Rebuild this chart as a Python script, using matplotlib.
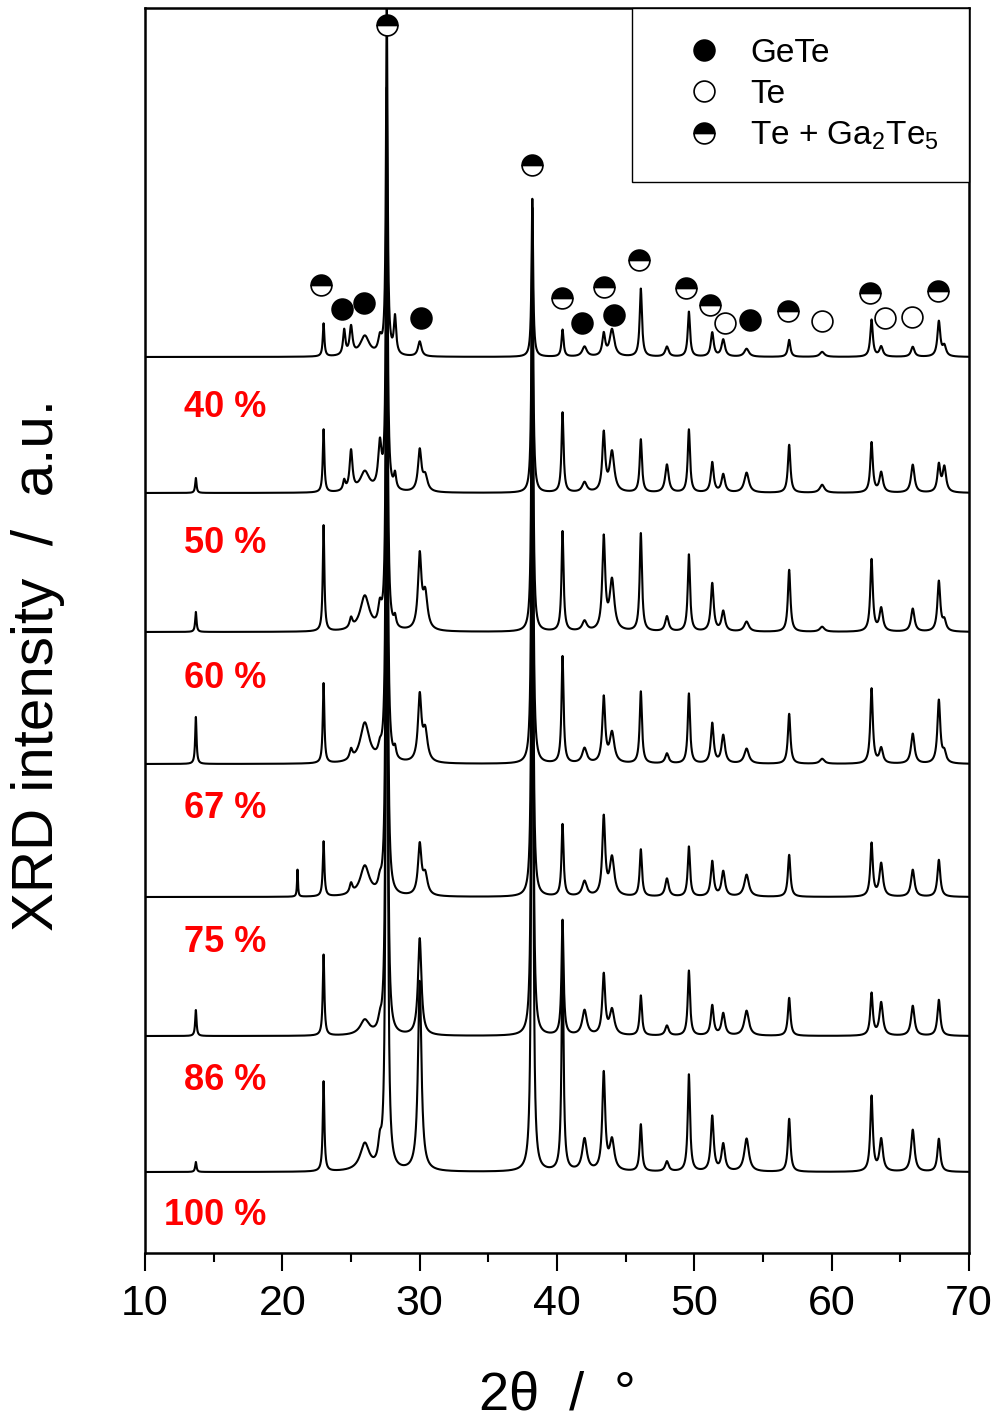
import numpy as np
import matplotlib.pyplot as plt
from matplotlib.lines import Line2D

plt.rcParams['font.family'] = ['Liberation Sans', 'DejaVu Sans']
plt.rcParams['mathtext.fontset'] = 'custom'
plt.rcParams['mathtext.rm'] = 'Liberation Sans'
plt.rcParams['mathtext.default'] = 'rm'
narrow = ['Liberation Sans Narrow', 'Liberation Sans', 'DejaVu Sans']

# samples, vertical offsets of each pattern and where the red label sits
samples = ['40 %', '50 %', '60 %', '67 %', '75 %', '86 %', '100 %']
offsets = [896, 760, 621, 489, 356, 217, 81]
label_y = [845, 710, 575, 445, 311, 173, 38]

# reflections (2theta, FWHM)
peak_pos = [13.7, 21.1, 23.0, 24.5, 25.0, 26.0, 27.1, 27.6, 28.2, 30.0, 30.4,
            38.2, 40.4, 42.0, 43.4, 44.0, 46.1, 48.0, 49.6, 51.3, 52.1, 53.8,
            56.9, 59.3, 62.9, 63.6, 65.9, 67.8, 68.2]
peak_fwhm = [0.12, 0.08, 0.14, 0.2, 0.25, 0.8, 0.3, 0.14, 0.2, 0.3, 0.4,
             0.14, 0.18, 0.4, 0.25, 0.4, 0.2, 0.3, 0.2, 0.25, 0.3, 0.4,
             0.22, 0.4, 0.22, 0.3, 0.3, 0.25, 0.3]

# peak heights per sample (a.u.)
h40 = [0, 0, 33, 25, 28, 20, 15, 360, 37, 15, 0, 158, 27, 10, 22, 27, 68, 10,
       45, 24, 17, 8, 17, 5, 37, 10, 10, 35, 10]
h50 = [15, 0, 63, 10, 40, 20, 45, 400, 15, 41, 15, 285, 80, 10, 58, 40, 53, 28,
       63, 30, 18, 20, 48, 8, 50, 20, 28, 27, 25]
h60 = [20, 0, 106, 0, 10, 35, 20, 500, 10, 73, 35, 400, 100, 10, 92, 50, 98, 15,
       77, 48, 20, 10, 62, 5, 72, 23, 23, 50, 10]
h67 = [47, 0, 80, 0, 10, 40, 10, 600, 10, 65, 30, 500, 107, 15, 65, 30, 72, 10,
       70, 40, 28, 15, 50, 5, 75, 15, 30, 63, 10]
h75 = [0, 27, 55, 0, 10, 30, 10, 680, 0, 50, 20, 540, 72, 15, 78, 38, 47, 18,
       50, 35, 25, 22, 42, 0, 53, 33, 27, 37, 0]
h86 = [26, 0, 81, 0, 0, 15, 10, 780, 0, 97, 0, 680, 115, 25, 60, 25, 40, 10,
       65, 30, 22, 25, 38, 0, 42, 33, 30, 36, 0]
h100 = [10, 0, 90, 0, 0, 27, 20, 950, 0, 190, 0, 800, 210, 32, 97, 30, 47, 10,
        97, 55, 27, 33, 53, 0, 75, 32, 42, 33, 0]
heights = [h40, h50, h60, h67, h75, h86, h100]

# phase markers
gete_x = [24.35, 25.95, 30.10, 41.82, 44.15, 54.05]
gete_y = [944, 950, 935, 930, 938, 933]
te_x = [52.23, 59.30, 63.88, 65.85]
te_y = [930, 932, 935, 936]
mix_x = [27.62, 38.18, 22.82, 40.36, 43.42, 45.97, 49.39, 51.14, 56.82, 62.79, 67.74]
mix_y = [1228, 1088, 968, 955, 966, 993, 965, 948, 942, 960, 962]

two_theta = np.linspace(10, 70, 6001)


def pattern(h):
    y = np.zeros_like(two_theta)
    for x0, w, a in zip(peak_pos, peak_fwhm, h):
        y += a / (1 + ((two_theta - x0) / (w / 2)) ** 2)
    return y


fig = plt.figure(figsize=(10.01, 14.22), dpi=100)
ax = fig.add_axes([0.1449, 0.1188, 0.8232, 0.8756])

for off, h in zip(offsets, heights):
    ax.plot(two_theta, off + pattern(h), color='black', lw=1.5)

for name, ly in zip(samples, label_y):
    ax.text(18.81, ly, name, color='#ff0000', fontsize=26, fontweight='bold',
            ha='right', va='center')

mk = dict(ls='none', marker='o', ms=15, mec='black', mew=1.2, zorder=5)
ax.plot(gete_x, gete_y, mfc='black', **mk)
ax.plot(te_x, te_y, mfc='white', **mk)
ax.plot(mix_x, mix_y, mfc='black', markerfacecoloralt='white', fillstyle='top', **mk)

handles = [
    Line2D([], [], mfc='black', **mk),
    Line2D([], [], mfc='white', **mk),
    Line2D([], [], mfc='black', markerfacecoloralt='white', fillstyle='top', **mk),
]
leg = ax.legend(handles, ['GeTe', 'Te', r'Te + Ga$_2$Te$_5$'], loc='upper right',
                bbox_to_anchor=(1, 1), borderaxespad=0, fancybox=False,
                framealpha=1, edgecolor='black', fontsize=24, borderpad=0.9,
                handlelength=2.52, handletextpad=0.12, labelspacing=0.29)
leg.get_frame().set_linewidth(1.0)

ax.set_xlim(10, 70)
ax.set_ylim(0, 1245)
ax.set_yticks([])
ax.set_xticks(range(10, 71, 10))
ax.set_xticks(range(15, 70, 10), minor=True)
ax.tick_params(axis='x', which='major', direction='out', length=13, width=1.5,
               labelsize=31, pad=9)
ax.tick_params(axis='x', which='minor', direction='out', length=6.5, width=1.5)
for lab in ax.get_xticklabels():
    lab.set_fontfamily(narrow)
for s in ax.spines.values():
    s.set_linewidth(1.8)

ax.set_xlabel('2θ  /  °', fontsize=39, fontfamily=narrow)
ax.xaxis.set_label_coords(0.5, -0.094)
ax.set_ylabel('XRD intensity  /  a.u.', fontsize=42)
ax.yaxis.set_label_coords(-0.097, 0.472)

fig.savefig('out.png', dpi=100)
